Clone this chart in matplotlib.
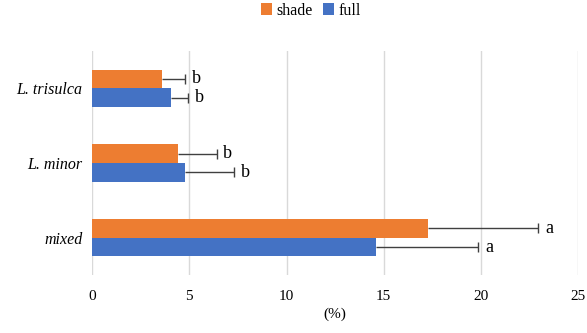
import numpy as np
import matplotlib.pyplot as plt

categories = ["mixed", "L. minor", "L. trisulca"]
shade = [17.3, 4.4, 3.6]
shade_err = [5.65, 2.0, 1.2]
full = [14.6, 4.8, 4.05]
full_err = [5.25, 2.5, 0.9]
shade_sig = ["a", "b", "b"]
full_sig = ["a", "b", "b"]

plt.rcParams['font.family'] = ['Liberation Serif', 'DejaVu Serif']

fig = plt.figure(figsize=(5.87, 3.33), dpi=100)
ax = fig.add_axes([0.157, 0.174, 0.828, 0.673])

y = np.arange(len(categories))
h = 0.25


def plus_err(vals, errs, pos, letters):
    vals = np.array(vals)
    ends = vals + np.array(errs)
    # one-sided bar: line from the bar end plus a cap at the tip only
    ax.hlines(pos, vals, ends, color="#404040", linewidth=1.0, zorder=2)
    ax.plot(ends, pos, linestyle="none", marker="|", markersize=7,
            markeredgewidth=1.0, color="#404040", zorder=2)
    for e, p, t in zip(ends, pos, letters):
        ax.text(e + 0.35, p, t, va="center", ha="left", fontsize=13)


ax.barh(y + h / 2, shade, height=h, color="#ED7D31", label="shade", zorder=3)
ax.barh(y - h / 2, full, height=h, color="#4472C4", label="full", zorder=3)
plus_err(shade, shade_err, y + h / 2, shade_sig)
plus_err(full, full_err, y - h / 2, full_sig)

ax.set_xlim(0, 25)
ax.set_ylim(-0.5, 2.5)
ax.set_xticks([0, 5, 10, 15, 20, 25])
ax.set_yticks(y)
ax.set_yticklabels(categories, fontstyle="italic", fontsize=11.5)
ax.tick_params(axis="x", labelsize=11, length=0, pad=11)
ax.tick_params(axis="y", length=0, pad=7)
ax.grid(axis="x", color="#D9D9D9", linewidth=1.0, zorder=0)
for s in ax.spines.values():
    s.set_visible(False)
ax.set_xlabel("(%)", fontsize=11, labelpad=3)

ax.legend(loc="upper center", bbox_to_anchor=(0.45, 1.28), ncol=2,
          frameon=False, fontsize=11.5, handlelength=0.7, handleheight=0.7,
          handletextpad=0.3, columnspacing=0.6)

fig.savefig("out.png", dpi=100)
